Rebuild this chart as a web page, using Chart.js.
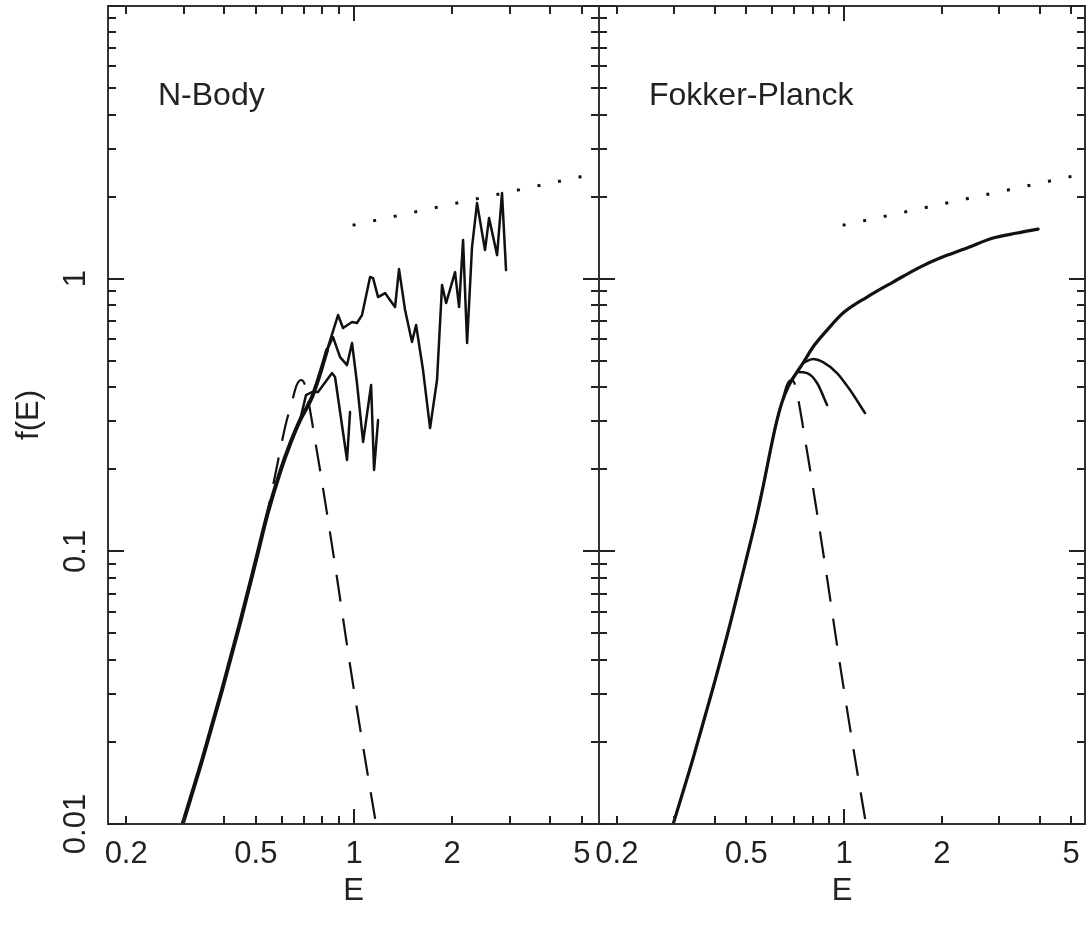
<!DOCTYPE html>
<html>
<head>
<meta charset="utf-8">
<script src="https://cdn.jsdelivr.net/npm/chart.js@4.4.1/dist/chart.umd.min.js"></script>
<style>
html,body{margin:0;padding:0;background:#fff;}
#wrap{position:relative;width:1089px;height:932px;background:#fff;}
canvas{position:absolute;left:0;top:0;}
</style>
</head>
<body>
<div id="wrap">
<canvas id="cA" width="1089" height="932"></canvas>
<canvas id="cB" width="1089" height="932"></canvas>
</div>
<script>
// ---- tick labels ----
const xTickValues = [0.2, 0.5, 1, 2, 5];
const xTickLabels = ['0.2', '0.5', '1', '2', '5'];
const yTickValues = [0.01, 0.1, 1];
const yTickLabels = ['0.01', '0.1', '1'];

// ---- N-Body panel ----
const nbBaseE = [0.298, 0.3441, 0.3936, 0.4469, 0.5003, 0.5446, 0.5929, 0.6363, 0.6830, 0.7175, 0.7433, 0.7698, 0.7977, 0.8264];
const nbBaseF = [0.010, 0.0176, 0.0310, 0.0546, 0.0929, 0.1393, 0.1953, 0.2475, 0.3030, 0.3382, 0.3680, 0.4143, 0.4740, 0.5471];

const nbRun1E = [0.8264, 0.8932, 0.9253, 0.9860, 1.021, 1.058, 1.120, 1.144, 1.185, 1.245, 1.289, 1.336, 1.374, 1.434, 1.506, 1.550, 1.628, 1.711, 1.797, 1.862, 1.916, 2.041, 2.100, 2.160, 2.222, 2.301, 2.384, 2.522, 2.595, 2.747, 2.844, 2.926];
const nbRun1F = [0.5471, 0.7355, 0.6590, 0.6934, 0.6875, 0.7355, 1.014, 1.005, 0.8561, 0.8856, 0.8346, 0.7868, 1.084, 0.7672, 0.5855, 0.6759, 0.4622, 0.2832, 0.4248, 0.9473, 0.8137, 1.057, 0.7868, 1.385, 0.5805, 1.306, 1.893, 1.273, 1.668, 1.220, 2.060, 1.075];

const nbRun2E = [0.8264, 0.8621, 0.9060, 0.9517, 0.9860, 1.021, 1.066, 1.128, 1.152, 1.185];
const nbRun2F = [0.5471, 0.6106, 0.5158, 0.4821, 0.5805, 0.4143, 0.2518, 0.4072, 0.1987, 0.3030];

const nbRun3E = [0.6830, 0.7125, 0.7433, 0.7755, 0.8560, 0.8744, 0.9517, 0.9721];
const nbRun3F = [0.3030, 0.3743, 0.3840, 0.3840, 0.4506, 0.4357, 0.2162, 0.3242];

// ---- initial model (dashed), both panels ----
const initE = [0.298, 0.3441, 0.3936, 0.4469, 0.4994, 0.5362, 0.5673, 0.5919, 0.6177, 0.6447, 0.6660, 0.6870, 0.7075, 0.7328, 0.7591, 0.7866, 0.8744, 0.9721, 1.058, 1.168];
const initF = [0.010, 0.0176, 0.0310, 0.0546, 0.0929, 0.1314, 0.1795, 0.2312, 0.2930, 0.3527, 0.4050, 0.4250, 0.4072, 0.3297, 0.2560, 0.1987, 0.0891, 0.0383, 0.0203, 0.010];

// ---- E^(1/4) cusp (dotted), both panels ----
const cuspE = [0.99, 5.6];
const cuspF = [1.57, 2.44];

// ---- Fokker-Planck panel ----
const fpMainE = [0.298, 0.3441, 0.3936, 0.4469, 0.4994, 0.5362, 0.5673, 0.5919, 0.6177, 0.6447, 0.6726, 0.7067, 0.7477, 0.8027, 0.8867, 0.993, 1.177, 1.415, 1.714, 1.974, 2.390, 2.873, 3.406, 3.954];
const fpMainF = [0.010, 0.0176, 0.0310, 0.0546, 0.0929, 0.1314, 0.1795, 0.2312, 0.2930, 0.3527, 0.4004, 0.4431, 0.4903, 0.5613, 0.6477, 0.7479, 0.8561, 0.9716, 1.103, 1.190, 1.295, 1.409, 1.470, 1.520];

const fpArcAE = [0.7477, 0.8027, 0.8618, 0.9516, 1.0434, 1.160];
const fpArcAF = [0.4903, 0.5072, 0.4945, 0.4506, 0.3905, 0.3215];

const fpArcBE = [0.6822, 0.7219, 0.7694, 0.8260, 0.8867];
const fpArcBF = [0.4176, 0.4545, 0.4506, 0.4143, 0.3439];

// ---------------------------------------------------------------
const FONT = "'Liberation Sans', Arial, Helvetica, sans-serif";
const INK = '#111';
const TXT = '#222';

function pts(E, F) { return E.map((e, i) => ({x: e, y: F[i]})); }

function solid(E, F, w, smooth) {
  return {data: pts(E, F), borderColor: INK, borderWidth: w, pointRadius: 0, fill: false,
    tension: 0, cubicInterpolationMode: smooth ? 'monotone' : 'default', borderJoinStyle: 'round', borderCapStyle: 'round'};
}
function dashed(E, F) {
  return {data: pts(E, F), borderColor: INK, borderWidth: 2.2, pointRadius: 0, fill: false,
    cubicInterpolationMode: 'monotone', borderDash: [27, 17], borderCapStyle: 'butt'};
}
function dotted(E, F) {
  return {data: pts(E, F), borderColor: INK, borderWidth: 3, pointRadius: 0, fill: false,
    tension: 0, borderDash: [3, 18], borderCapStyle: 'butt'};
}

function tickSet(min, max) {
  const out = [];
  const e0 = Math.floor(Math.log10(min)) - 1, e1 = Math.ceil(Math.log10(max)) + 1;
  for (let e = e0; e <= e1; e++) {
    for (let m = 1; m <= 9; m++) {
      const v = m * Math.pow(10, e);
      if (v >= min * 0.999 && v <= max * 1.001) out.push({v: v, major: m === 1});
    }
  }
  return out;
}

const frameTicks = {
  id: 'frameTicks',
  afterDraw(chart, args, opts) {
    const {ctx, chartArea: a} = chart;
    const x = chart.scales.x, y = chart.scales.y;
    ctx.save();
    ctx.strokeStyle = '#333';
    ctx.lineWidth = 2;
    ctx.strokeRect(a.left, a.top, a.right - a.left, a.bottom - a.top);
    ctx.strokeStyle = '#222';
    ctx.lineWidth = 2;
    ctx.beginPath();
    for (const t of tickSet(x.min, x.max)) {
      const px = Math.round(x.getPixelForValue(t.v));
      const len = t.major ? 15 : 8;
      ctx.moveTo(px, a.bottom); ctx.lineTo(px, a.bottom - len);
      ctx.moveTo(px, a.top); ctx.lineTo(px, a.top + len);
    }
    for (const t of tickSet(y.min, y.max)) {
      const py = Math.round(y.getPixelForValue(t.v));
      const len = t.major ? 16 : 8;
      ctx.moveTo(a.left, py); ctx.lineTo(a.left + len, py);
      ctx.moveTo(a.right, py); ctx.lineTo(a.right - len, py);
    }
    ctx.stroke();
    ctx.fillStyle = TXT;
    ctx.font = '32px ' + FONT;
    ctx.textBaseline = 'alphabetic';
    ctx.textAlign = 'left';
    ctx.fillText(opts.text, a.left + opts.dx, a.top + opts.dy);
    ctx.restore();
  }
};

function makeChart(id, panel) {
  return new Chart(document.getElementById(id), {
    type: 'line',
    data: {datasets: panel.datasets},
    plugins: [frameTicks],
    options: {
      responsive: false, animation: false, events: [],
      layout: {padding: {left: panel.padL, right: panel.padR, top: 6, bottom: 0}},
      plugins: {
        legend: {display: false}, tooltip: {enabled: false},
        frameTicks: {text: panel.label, dx: 50, dy: 99}
      },
      scales: {
        x: {
          type: 'logarithmic', bounds: 'data', min: panel.xmin, max: panel.xmax,
          afterDataLimits: s => { s.min = panel.xmin; s.max = panel.xmax; },
          afterBuildTicks: s => { s.ticks = xTickValues.map(v => ({value: v})); },
          afterFit: s => { s.height = 108; s.paddingLeft = 0; s.paddingRight = 0; },
          grid: {display: false, drawTicks: false}, border: {display: false},
          ticks: {autoSkip: false, minRotation: 0, maxRotation: 0, padding: 12, color: TXT,
            font: {family: FONT, size: 31}, callback: (v, i) => xTickLabels[i]},
          title: {display: true, text: 'E', color: TXT, font: {family: FONT, size: 31},
            padding: {top: 0, bottom: 22}}
        },
        y: {
          type: 'logarithmic', bounds: 'data', min: 0.01, max: 10, display: panel.showY,
          afterDataLimits: s => { s.min = 0.01; s.max = 10; },
          afterBuildTicks: s => { s.ticks = yTickValues.map(v => ({value: v})); },
          afterFit: s => { s.width = panel.showY ? 108 : 0; s.paddingTop = 0; s.paddingBottom = 0; },
          grid: {display: false, drawTicks: false}, border: {display: false},
          ticks: {autoSkip: false, minRotation: 90, maxRotation: 90, crossAlign: 'center', padding: 1,
            color: TXT, font: {family: FONT, size: 31}, callback: (v, i) => yTickLabels[i]},
          title: {display: true, text: 'f(E)', color: TXT, font: {family: FONT, size: 31},
            padding: {top: 11, bottom: 0}}
        }
      }
    }
  });
}

makeChart('cA', {
  label: 'N-Body', padL: 0, padR: 490, xmin: 0.1759, xmax: 5.642, showY: true,
  datasets: [
    dotted(cuspE, cuspF),
    dashed(initE, initF),
    solid(nbBaseE, nbBaseF, 4, true),
    solid(nbRun1E, nbRun1F, 2.5, false),
    solid(nbRun2E, nbRun2F, 2.5, false),
    solid(nbRun3E, nbRun3F, 2.5, false)
  ]
});

makeChart('cB', {
  label: 'Fokker-Planck', padL: 599, padR: 4, xmin: 0.1762, xmax: 5.513, showY: false,
  datasets: [
    dotted(cuspE, cuspF),
    dashed(initE, initF),
    solid(fpMainE, fpMainF, 3.2, true),
    solid(fpArcAE, fpArcAF, 2.5, true),
    solid(fpArcBE, fpArcBF, 2.5, true)
  ]
});
</script>
</body>
</html>
